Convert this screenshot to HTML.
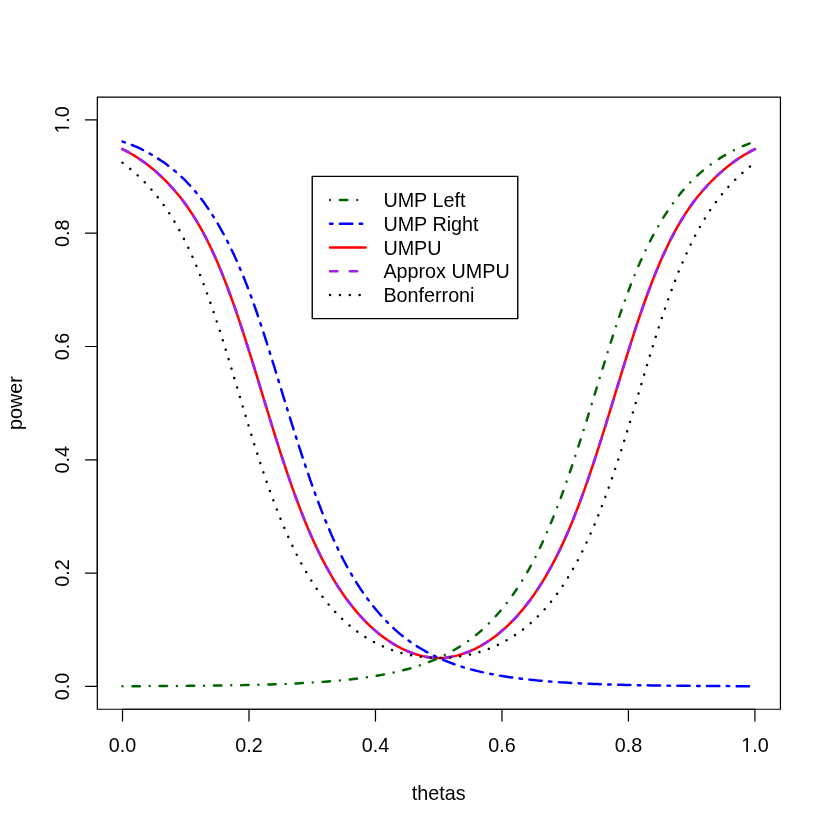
<!DOCTYPE html>
<html><head><meta charset="utf-8"><title>power</title>
<style>
html,body{margin:0;padding:0;background:#fff;}
svg{display:block;will-change:transform;}
text{font-family:"Liberation Sans",sans-serif;font-size:20px;fill:#000;}
</style></head><body>
<svg width="830" height="830" viewBox="0 0 840 840">
<rect x="0" y="0" width="840" height="840" fill="#fff"/>
<polyline fill="none" stroke="#ff0000" stroke-width="2.5" stroke-linecap="round" stroke-linejoin="round" points="124.00,150.96 127.20,152.58 130.40,154.29 133.60,156.12 136.80,158.05 140.00,160.10 143.20,162.26 146.40,164.54 149.60,166.95 152.80,169.49 156.00,172.16 159.20,174.96 162.40,177.89 165.60,180.95 168.80,184.17 172.00,187.53 175.20,191.06 178.40,194.76 181.60,198.65 184.80,202.74 188.00,207.05 191.20,211.59 194.40,216.37 197.60,221.43 200.80,226.77 204.00,232.41 207.20,238.36 210.40,244.64 213.60,251.24 216.80,258.17 220.00,265.44 223.20,273.03 226.40,280.96 229.60,289.21 232.80,297.78 236.00,306.65 239.20,315.82 242.40,325.26 245.60,334.96 248.80,344.87 252.00,354.99 255.20,365.26 258.40,375.65 261.60,386.13 264.80,396.65 268.00,407.18 271.20,417.67 274.40,428.09 277.60,438.40 280.80,448.56 284.00,458.55 287.20,468.33 290.40,477.90 293.60,487.22 296.80,496.29 300.00,505.09 303.20,513.60 306.40,521.82 309.60,529.74 312.80,537.36 316.00,544.68 319.20,551.69 322.40,558.40 325.60,564.82 328.80,570.96 332.00,576.83 335.20,582.43 338.40,587.79 341.60,592.90 344.80,597.78 348.00,602.44 351.20,606.88 354.40,611.12 357.60,615.17 360.80,619.03 364.00,622.70 367.20,626.18 370.40,629.49 373.60,632.63 376.80,635.61 380.00,638.42 383.20,641.09 386.40,643.60 389.60,645.97 392.80,648.21 396.00,650.31 399.20,652.29 402.40,654.13 405.60,655.83 408.80,657.40 412.00,658.84 415.20,660.14 418.40,661.32 421.60,662.36 424.80,663.28 428.00,664.07 431.20,664.73 434.40,665.25 437.60,665.63 440.80,665.87 444.00,665.95 447.20,665.87 450.40,665.63 453.60,665.25 456.80,664.73 460.00,664.07 463.20,663.28 466.40,662.36 469.60,661.32 472.80,660.14 476.00,658.84 479.20,657.40 482.40,655.83 485.60,654.13 488.80,652.29 492.00,650.31 495.20,648.21 498.40,645.97 501.60,643.60 504.80,641.09 508.00,638.42 511.20,635.61 514.40,632.63 517.60,629.49 520.80,626.18 524.00,622.70 527.20,619.03 530.40,615.17 533.60,611.12 536.80,606.88 540.00,602.44 543.20,597.78 546.40,592.90 549.60,587.79 552.80,582.43 556.00,576.83 559.20,570.96 562.40,564.82 565.60,558.40 568.80,551.69 572.00,544.68 575.20,537.36 578.40,529.74 581.60,521.82 584.80,513.60 588.00,505.09 591.20,496.29 594.40,487.22 597.60,477.90 600.80,468.33 604.00,458.55 607.20,448.56 610.40,438.40 613.60,428.09 616.80,417.67 620.00,407.18 623.20,396.65 626.40,386.13 629.60,375.65 632.80,365.26 636.00,354.99 639.20,344.87 642.40,334.96 645.60,325.26 648.80,315.82 652.00,306.65 655.20,297.78 658.40,289.21 661.60,280.96 664.80,273.03 668.00,265.44 671.20,258.17 674.40,251.24 677.60,244.64 680.80,238.36 684.00,232.41 687.20,226.77 690.40,221.43 693.60,216.37 696.80,211.59 700.00,207.05 703.20,202.74 706.40,198.65 709.60,194.76 712.80,191.06 716.00,187.53 719.20,184.17 722.40,180.95 725.60,177.89 728.80,174.96 732.00,172.16 735.20,169.49 738.40,166.95 741.60,164.54 744.80,162.26 748.00,160.10 751.20,158.05 754.40,156.12 757.60,154.29 760.80,152.58 764.00,150.96"/>
<polyline fill="none" stroke="#a020f0" stroke-width="2.7" stroke-linecap="round" stroke-linejoin="round" stroke-dasharray="7.5 12.5" points="124.00,150.96 127.20,152.58 130.40,154.29 133.60,156.12 136.80,158.05 140.00,160.10 143.20,162.26 146.40,164.54 149.60,166.95 152.80,169.49 156.00,172.16 159.20,174.96 162.40,177.89 165.60,180.95 168.80,184.17 172.00,187.53 175.20,191.06 178.40,194.76 181.60,198.65 184.80,202.74 188.00,207.05 191.20,211.59 194.40,216.37 197.60,221.43 200.80,226.77 204.00,232.41 207.20,238.36 210.40,244.64 213.60,251.24 216.80,258.17 220.00,265.44 223.20,273.03 226.40,280.96 229.60,289.21 232.80,297.78 236.00,306.65 239.20,315.82 242.40,325.26 245.60,334.96 248.80,344.87 252.00,354.99 255.20,365.26 258.40,375.65 261.60,386.13 264.80,396.65 268.00,407.18 271.20,417.67 274.40,428.09 277.60,438.40 280.80,448.56 284.00,458.55 287.20,468.33 290.40,477.90 293.60,487.22 296.80,496.29 300.00,505.09 303.20,513.60 306.40,521.82 309.60,529.74 312.80,537.36 316.00,544.68 319.20,551.69 322.40,558.40 325.60,564.82 328.80,570.96 332.00,576.83 335.20,582.43 338.40,587.79 341.60,592.90 344.80,597.78 348.00,602.44 351.20,606.88 354.40,611.12 357.60,615.17 360.80,619.03 364.00,622.70 367.20,626.18 370.40,629.49 373.60,632.63 376.80,635.61 380.00,638.42 383.20,641.09 386.40,643.60 389.60,645.97 392.80,648.21 396.00,650.31 399.20,652.29 402.40,654.13 405.60,655.83 408.80,657.40 412.00,658.84 415.20,660.14 418.40,661.32 421.60,662.36 424.80,663.28 428.00,664.07 431.20,664.73 434.40,665.25 437.60,665.63 440.80,665.87 444.00,665.95 447.20,665.87 450.40,665.63 453.60,665.25 456.80,664.73 460.00,664.07 463.20,663.28 466.40,662.36 469.60,661.32 472.80,660.14 476.00,658.84 479.20,657.40 482.40,655.83 485.60,654.13 488.80,652.29 492.00,650.31 495.20,648.21 498.40,645.97 501.60,643.60 504.80,641.09 508.00,638.42 511.20,635.61 514.40,632.63 517.60,629.49 520.80,626.18 524.00,622.70 527.20,619.03 530.40,615.17 533.60,611.12 536.80,606.88 540.00,602.44 543.20,597.78 546.40,592.90 549.60,587.79 552.80,582.43 556.00,576.83 559.20,570.96 562.40,564.82 565.60,558.40 568.80,551.69 572.00,544.68 575.20,537.36 578.40,529.74 581.60,521.82 584.80,513.60 588.00,505.09 591.20,496.29 594.40,487.22 597.60,477.90 600.80,468.33 604.00,458.55 607.20,448.56 610.40,438.40 613.60,428.09 616.80,417.67 620.00,407.18 623.20,396.65 626.40,386.13 629.60,375.65 632.80,365.26 636.00,354.99 639.20,344.87 642.40,334.96 645.60,325.26 648.80,315.82 652.00,306.65 655.20,297.78 658.40,289.21 661.60,280.96 664.80,273.03 668.00,265.44 671.20,258.17 674.40,251.24 677.60,244.64 680.80,238.36 684.00,232.41 687.20,226.77 690.40,221.43 693.60,216.37 696.80,211.59 700.00,207.05 703.20,202.74 706.40,198.65 709.60,194.76 712.80,191.06 716.00,187.53 719.20,184.17 722.40,180.95 725.60,177.89 728.80,174.96 732.00,172.16 735.20,169.49 738.40,166.95 741.60,164.54 744.80,162.26 748.00,160.10 751.20,158.05 754.40,156.12 757.60,154.29 760.80,152.58 764.00,150.96"/>
<polyline fill="none" stroke="#006400" stroke-width="2.5" stroke-linecap="round" stroke-linejoin="round" stroke-dasharray="0.01 10 7.5 10" points="124.00,694.47 127.20,694.46 130.40,694.45 133.60,694.44 136.80,694.43 140.00,694.42 143.20,694.41 146.40,694.39 149.60,694.38 152.80,694.36 156.00,694.35 159.20,694.33 162.40,694.31 165.60,694.30 168.80,694.28 172.00,694.26 175.20,694.24 178.40,694.21 181.60,694.19 184.80,694.17 188.00,694.14 191.20,694.11 194.40,694.09 197.60,694.06 200.80,694.03 204.00,693.99 207.20,693.96 210.40,693.92 213.60,693.88 216.80,693.84 220.00,693.80 223.20,693.76 226.40,693.71 229.60,693.66 232.80,693.61 236.00,693.56 239.20,693.50 242.40,693.44 245.60,693.38 248.80,693.31 252.00,693.24 255.20,693.17 258.40,693.09 261.60,693.01 264.80,692.92 268.00,692.83 271.20,692.74 274.40,692.64 277.60,692.54 280.80,692.43 284.00,692.31 287.20,692.19 290.40,692.07 293.60,691.93 296.80,691.79 300.00,691.65 303.20,691.49 306.40,691.33 309.60,691.16 312.80,690.98 316.00,690.79 319.20,690.59 322.40,690.38 325.60,690.16 328.80,689.93 332.00,689.69 335.20,689.43 338.40,689.16 341.60,688.88 344.80,688.58 348.00,688.27 351.20,687.94 354.40,687.60 357.60,687.24 360.80,686.85 364.00,686.45 367.20,686.03 370.40,685.59 373.60,685.12 376.80,684.64 380.00,684.12 383.20,683.58 386.40,683.01 389.60,682.41 392.80,681.79 396.00,681.13 399.20,680.43 402.40,679.70 405.60,678.93 408.80,678.13 412.00,677.28 415.20,676.39 418.40,675.45 421.60,674.45 424.80,673.41 428.00,672.30 431.20,671.14 434.40,669.91 437.60,668.62 440.80,667.26 444.00,665.83 447.20,664.34 450.40,662.77 453.60,661.13 456.80,659.42 460.00,657.62 463.20,655.74 466.40,653.77 469.60,651.70 472.80,649.51 476.00,647.21 479.20,644.79 482.40,642.22 485.60,639.52 488.80,636.67 492.00,633.68 495.20,630.53 498.40,627.22 501.60,623.76 504.80,620.14 508.00,616.35 511.20,612.39 514.40,608.26 517.60,603.94 520.80,599.42 524.00,594.70 527.20,589.75 530.40,584.57 533.60,579.13 536.80,573.44 540.00,567.46 543.20,561.19 546.40,554.62 549.60,547.75 552.80,540.58 556.00,533.11 559.20,525.34 562.40,517.28 565.60,508.93 568.80,500.31 572.00,491.42 575.20,482.29 578.40,472.93 581.60,463.35 584.80,453.58 588.00,443.63 591.20,433.53 594.40,423.30 597.60,412.97 600.80,402.57 604.00,392.13 607.20,381.68 610.40,371.27 613.60,360.94 616.80,350.73 620.00,340.70 623.20,330.87 626.40,321.29 629.60,312.00 632.80,303.01 636.00,294.35 639.20,286.04 642.40,278.08 645.60,270.45 648.80,263.16 652.00,256.18 655.20,249.52 658.40,243.15 661.60,237.07 664.80,231.27 668.00,225.73 671.20,220.45 674.40,215.41 677.60,210.62 680.80,206.05 684.00,201.72 687.20,197.60 690.40,193.70 693.60,190.00 696.80,186.49 700.00,183.17 703.20,180.03 706.40,177.05 709.60,174.23 712.80,171.56 716.00,169.02 719.20,166.60 722.40,164.30 725.60,162.12 728.80,160.03 732.00,158.04 735.20,156.15 738.40,154.35 741.60,152.64 744.80,151.03 748.00,149.51 751.20,148.09 754.40,146.77 757.60,145.53 760.80,144.38 764.00,143.32"/>
<polyline fill="none" stroke="#0000ff" stroke-width="2.5" stroke-linecap="round" stroke-linejoin="round" stroke-dasharray="2.5 7.5 12.5 7.5" points="124.00,143.32 127.20,144.38 130.40,145.53 133.60,146.77 136.80,148.09 140.00,149.51 143.20,151.03 146.40,152.64 149.60,154.35 152.80,156.15 156.00,158.04 159.20,160.03 162.40,162.12 165.60,164.30 168.80,166.60 172.00,169.02 175.20,171.56 178.40,174.23 181.60,177.05 184.80,180.03 188.00,183.17 191.20,186.49 194.40,190.00 197.60,193.70 200.80,197.60 204.00,201.72 207.20,206.05 210.40,210.62 213.60,215.41 216.80,220.45 220.00,225.73 223.20,231.27 226.40,237.07 229.60,243.15 232.80,249.52 236.00,256.18 239.20,263.16 242.40,270.45 245.60,278.08 248.80,286.04 252.00,294.35 255.20,303.01 258.40,312.00 261.60,321.29 264.80,330.87 268.00,340.70 271.20,350.73 274.40,360.94 277.60,371.27 280.80,381.68 284.00,392.13 287.20,402.57 290.40,412.97 293.60,423.30 296.80,433.53 300.00,443.63 303.20,453.58 306.40,463.35 309.60,472.93 312.80,482.29 316.00,491.42 319.20,500.31 322.40,508.93 325.60,517.28 328.80,525.34 332.00,533.11 335.20,540.58 338.40,547.75 341.60,554.62 344.80,561.19 348.00,567.46 351.20,573.44 354.40,579.13 357.60,584.57 360.80,589.75 364.00,594.70 367.20,599.42 370.40,603.94 373.60,608.26 376.80,612.39 380.00,616.35 383.20,620.14 386.40,623.76 389.60,627.22 392.80,630.53 396.00,633.68 399.20,636.67 402.40,639.52 405.60,642.22 408.80,644.79 412.00,647.21 415.20,649.51 418.40,651.70 421.60,653.77 424.80,655.74 428.00,657.62 431.20,659.42 434.40,661.13 437.60,662.77 440.80,664.34 444.00,665.83 447.20,667.26 450.40,668.62 453.60,669.91 456.80,671.14 460.00,672.30 463.20,673.41 466.40,674.45 469.60,675.45 472.80,676.39 476.00,677.28 479.20,678.13 482.40,678.93 485.60,679.70 488.80,680.43 492.00,681.13 495.20,681.79 498.40,682.41 501.60,683.01 504.80,683.58 508.00,684.12 511.20,684.64 514.40,685.12 517.60,685.59 520.80,686.03 524.00,686.45 527.20,686.85 530.40,687.24 533.60,687.60 536.80,687.94 540.00,688.27 543.20,688.58 546.40,688.88 549.60,689.16 552.80,689.43 556.00,689.69 559.20,689.93 562.40,690.16 565.60,690.38 568.80,690.59 572.00,690.79 575.20,690.98 578.40,691.16 581.60,691.33 584.80,691.49 588.00,691.65 591.20,691.79 594.40,691.93 597.60,692.07 600.80,692.19 604.00,692.31 607.20,692.43 610.40,692.54 613.60,692.64 616.80,692.74 620.00,692.83 623.20,692.92 626.40,693.01 629.60,693.09 632.80,693.17 636.00,693.24 639.20,693.31 642.40,693.38 645.60,693.44 648.80,693.50 652.00,693.56 655.20,693.61 658.40,693.66 661.60,693.71 664.80,693.76 668.00,693.80 671.20,693.84 674.40,693.88 677.60,693.92 680.80,693.96 684.00,693.99 687.20,694.03 690.40,694.06 693.60,694.09 696.80,694.11 700.00,694.14 703.20,694.17 706.40,694.19 709.60,694.21 712.80,694.24 716.00,694.26 719.20,694.28 722.40,694.30 725.60,694.31 728.80,694.33 732.00,694.35 735.20,694.36 738.40,694.38 741.60,694.39 744.80,694.41 748.00,694.42 751.20,694.43 754.40,694.44 757.60,694.45 760.80,694.46 764.00,694.47"/>
<polyline fill="none" stroke="#000000" stroke-width="2.5" stroke-linecap="round" stroke-linejoin="round" stroke-dasharray="0.01 9.985" points="124.00,164.72 127.20,167.14 130.40,169.68 133.60,172.34 136.80,175.13 140.00,178.05 143.20,181.12 146.40,184.34 149.60,187.72 152.80,191.27 156.00,195.00 159.20,198.93 162.40,203.07 165.60,207.42 168.80,212.02 172.00,216.87 175.20,221.99 178.40,227.39 181.60,233.09 184.80,239.09 188.00,245.42 191.20,252.07 194.40,259.06 197.60,266.39 200.80,274.07 204.00,282.11 207.20,290.49 210.40,299.21 213.60,308.26 216.80,317.62 220.00,327.27 223.20,337.18 226.40,347.34 229.60,357.70 232.80,368.24 236.00,378.90 239.20,389.63 242.40,400.40 245.60,411.14 248.80,421.81 252.00,432.36 255.20,442.76 258.40,452.96 261.60,462.94 264.80,472.69 268.00,482.19 271.20,491.41 274.40,500.34 277.60,508.97 280.80,517.30 284.00,525.32 287.20,533.02 290.40,540.41 293.60,547.49 296.80,554.27 300.00,560.75 303.20,566.94 306.40,572.84 309.60,578.48 312.80,583.85 316.00,588.96 319.20,593.83 322.40,598.47 325.60,602.87 328.80,607.06 332.00,611.03 335.20,614.80 338.40,618.37 341.60,621.76 344.80,624.97 348.00,628.00 351.20,630.88 354.40,633.60 357.60,636.18 360.80,638.61 364.00,640.91 367.20,643.07 370.40,645.12 373.60,647.04 376.80,648.86 380.00,650.57 383.20,652.18 386.40,653.68 389.60,655.09 392.80,656.40 396.00,657.62 399.20,658.75 402.40,659.78 405.60,660.73 408.80,661.58 412.00,662.35 415.20,663.04 418.40,663.65 421.60,664.17 424.80,664.62 428.00,665.00 431.20,665.31 434.40,665.55 437.60,665.72 440.80,665.82 444.00,665.85 447.20,665.82 450.40,665.72 453.60,665.55 456.80,665.31 460.00,665.00 463.20,664.62 466.40,664.17 469.60,663.65 472.80,663.04 476.00,662.35 479.20,661.58 482.40,660.73 485.60,659.78 488.80,658.75 492.00,657.62 495.20,656.40 498.40,655.09 501.60,653.68 504.80,652.18 508.00,650.57 511.20,648.86 514.40,647.04 517.60,645.12 520.80,643.07 524.00,640.91 527.20,638.61 530.40,636.18 533.60,633.60 536.80,630.88 540.00,628.00 543.20,624.97 546.40,621.76 549.60,618.37 552.80,614.80 556.00,611.03 559.20,607.06 562.40,602.87 565.60,598.47 568.80,593.83 572.00,588.96 575.20,583.85 578.40,578.48 581.60,572.84 584.80,566.94 588.00,560.75 591.20,554.27 594.40,547.49 597.60,540.41 600.80,533.02 604.00,525.32 607.20,517.30 610.40,508.97 613.60,500.34 616.80,491.41 620.00,482.19 623.20,472.69 626.40,462.94 629.60,452.96 632.80,442.76 636.00,432.36 639.20,421.81 642.40,411.14 645.60,400.40 648.80,389.63 652.00,378.90 655.20,368.24 658.40,357.70 661.60,347.34 664.80,337.18 668.00,327.27 671.20,317.62 674.40,308.26 677.60,299.21 680.80,290.49 684.00,282.11 687.20,274.07 690.40,266.39 693.60,259.06 696.80,252.07 700.00,245.42 703.20,239.09 706.40,233.09 709.60,227.39 712.80,221.99 716.00,216.87 719.20,212.02 722.40,207.42 725.60,203.07 728.80,198.93 732.00,195.00 735.20,191.27 738.40,187.72 741.60,184.34 744.80,181.12 748.00,178.05 751.20,175.13 754.40,172.34 757.60,169.68 760.80,167.14 764.00,164.72"/>
<rect x="98.50" y="98.20" width="691.35" height="619.60" fill="none" stroke="#000" stroke-width="1.25" stroke-linejoin="round"/>
<line x1="124" y1="717.80" x2="764" y2="717.80" stroke="#000" stroke-width="1.25" stroke-linecap="round"/>
<line x1="98.50" y1="694.67" x2="98.50" y2="121.33" stroke="#000" stroke-width="1.25" stroke-linecap="round"/>
<line x1="124.00" y1="717.80" x2="124.00" y2="729.80" stroke="#000" stroke-width="1.25" stroke-linecap="round"/>
<text transform="translate(124.00,760.8) scale(1,1.06)" text-anchor="middle">0.0</text>
<line x1="252.00" y1="717.80" x2="252.00" y2="729.80" stroke="#000" stroke-width="1.25" stroke-linecap="round"/>
<text transform="translate(252.00,760.8) scale(1,1.06)" text-anchor="middle">0.2</text>
<line x1="380.00" y1="717.80" x2="380.00" y2="729.80" stroke="#000" stroke-width="1.25" stroke-linecap="round"/>
<text transform="translate(380.00,760.8) scale(1,1.06)" text-anchor="middle">0.4</text>
<line x1="508.00" y1="717.80" x2="508.00" y2="729.80" stroke="#000" stroke-width="1.25" stroke-linecap="round"/>
<text transform="translate(508.00,760.8) scale(1,1.06)" text-anchor="middle">0.6</text>
<line x1="636.00" y1="717.80" x2="636.00" y2="729.80" stroke="#000" stroke-width="1.25" stroke-linecap="round"/>
<text transform="translate(636.00,760.8) scale(1,1.06)" text-anchor="middle">0.8</text>
<line x1="764.00" y1="717.80" x2="764.00" y2="729.80" stroke="#000" stroke-width="1.25" stroke-linecap="round"/>
<text transform="translate(764.00,760.8) scale(1,1.06)" text-anchor="middle">1.0</text>
<line x1="98.50" y1="694.67" x2="86.50" y2="694.67" stroke="#000" stroke-width="1.25" stroke-linecap="round"/>
<text transform="translate(69.6,694.67) rotate(-90) scale(1,1.06)" text-anchor="middle">0.0</text>
<line x1="98.50" y1="580.00" x2="86.50" y2="580.00" stroke="#000" stroke-width="1.25" stroke-linecap="round"/>
<text transform="translate(69.6,580.00) rotate(-90) scale(1,1.06)" text-anchor="middle">0.2</text>
<line x1="98.50" y1="465.33" x2="86.50" y2="465.33" stroke="#000" stroke-width="1.25" stroke-linecap="round"/>
<text transform="translate(69.6,465.33) rotate(-90) scale(1,1.06)" text-anchor="middle">0.4</text>
<line x1="98.50" y1="350.67" x2="86.50" y2="350.67" stroke="#000" stroke-width="1.25" stroke-linecap="round"/>
<text transform="translate(69.6,350.67) rotate(-90) scale(1,1.06)" text-anchor="middle">0.6</text>
<line x1="98.50" y1="236.00" x2="86.50" y2="236.00" stroke="#000" stroke-width="1.25" stroke-linecap="round"/>
<text transform="translate(69.6,236.00) rotate(-90) scale(1,1.06)" text-anchor="middle">0.8</text>
<line x1="98.50" y1="121.33" x2="86.50" y2="121.33" stroke="#000" stroke-width="1.25" stroke-linecap="round"/>
<text transform="translate(69.6,121.33) rotate(-90) scale(1,1.06)" text-anchor="middle">1.0</text>
<text x="444" y="809.5" text-anchor="middle">thetas</text>
<text transform="translate(22.45,408) rotate(-90)" text-anchor="middle">power</text>
<rect x="750.50" y="758.70" width="4.63" height="2.70" fill="#fff"/>
<rect x="756.90" y="758.70" width="4.00" height="2.70" fill="#fff"/>
<rect x="67.50" y="130.20" width="2.70" height="4.63" fill="#fff"/>
<rect x="67.50" y="124.43" width="2.70" height="4.00" fill="#fff"/>
<rect x="316.00" y="178.45" width="208.00" height="144.00" fill="#fff" stroke="#000" stroke-width="1.4" stroke-linejoin="round"/>
<line x1="334.00" y1="202.45" x2="370.00" y2="202.45" stroke="#006400" stroke-width="2.5" stroke-linecap="round" stroke-dasharray="0.01 10 7.5 10"/>
<text transform="translate(388.00,209.85) scale(1,1.06)">UMP L</text>
<text x="448.75" y="209.85">eft</text>
<line x1="334.00" y1="226.45" x2="370.00" y2="226.45" stroke="#0000ff" stroke-width="2.5" stroke-linecap="round" stroke-dasharray="2.5 7.5 12.5 7.5"/>
<text transform="translate(388.00,233.85) scale(1,1.06)">UMP R</text>
<text x="452.08" y="233.85">ight</text>
<line x1="334.00" y1="250.45" x2="370.00" y2="250.45" stroke="#ff0000" stroke-width="2.5" stroke-linecap="round"/>
<text transform="translate(388.00,257.85) scale(1,1.06)">UMPU</text>
<line x1="334.00" y1="274.45" x2="370.00" y2="274.45" stroke="#a020f0" stroke-width="2.5" stroke-linecap="round" stroke-dasharray="7.5 12.5"/>
<text transform="translate(388.00,281.85) scale(1,1.06)">A</text>
<text x="401.33" y="281.85">pprox</text>
<text transform="translate(456.92,281.85) scale(1,1.06)">UMPU</text>
<line x1="334.00" y1="298.45" x2="370.00" y2="298.45" stroke="#000000" stroke-width="2.5" stroke-linecap="round" stroke-dasharray="0.01 9.985"/>
<text transform="translate(388.00,305.85) scale(1,1.06)">B</text>
<text x="401.33" y="305.85">onferroni</text>
</svg>
</body></html>
